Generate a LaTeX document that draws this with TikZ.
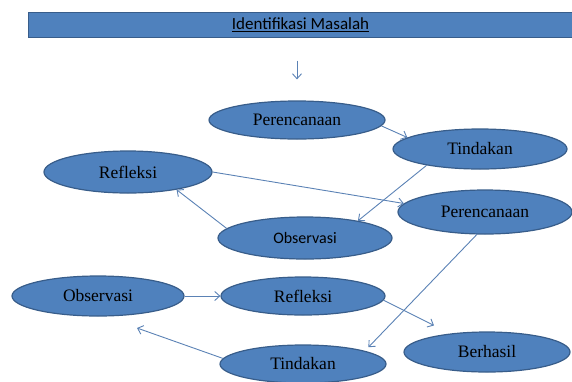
\documentclass[tikz,border=0pt]{standalone}
\usepackage{fontspec}
\setmainfont{Liberation Serif}
\newfontfamily\calibri{Carlito}
\usetikzlibrary{shapes.geometric,arrows.meta}
\definecolor{officeblue}{HTML}{4F81BD}
\definecolor{officeedge}{HTML}{385D8A}
\definecolor{linkblue}{HTML}{5B82B5}

\begin{document}
\begin{tikzpicture}[x=1pt,y=-1pt,>={Straight Barb[length=5pt,width=9pt]},
  phase/.style={ellipse,draw=officeedge,line width=1.2pt,fill=officeblue,inner sep=0pt,
    minimum width=170pt,minimum height=40pt,font=\fontsize{17.5}{20}\selectfont},
  link/.style={->,draw=linkblue,line width=0.9pt}]
\useasboundingbox (0,0) rectangle (572,381);
% judul
\node[draw=officeedge,line width=1pt,fill=officeblue,minimum width=545pt,minimum height=25pt,
  inner sep=0pt,font=\calibri\fontsize{17}{19}\selectfont] (bar) at (300.5,24.5) {\underline{Identifikasi Masalah}};
% siklus 1
\node[phase,minimum width=176pt,minimum height=38pt] (per1) at (297,120) {Perencanaan};
\node[phase,minimum width=174pt] (tinU) at (480,149) {Tindakan};
\node[phase,minimum width=174pt,minimum height=42pt] (obsM) at (305,238) {\calibri\fontsize{16}{18}\selectfont Observasi};
\node[phase,minimum width=168pt,minimum height=42pt] (refU) at (128,172) {Refleksi};
% siklus 2
\node[phase,minimum width=174pt,minimum height=44pt] (per2) at (485,212) {Perencanaan};
\node[phase,minimum width=166pt,minimum height=38pt] (tinL) at (303,364) {Tindakan};
\node[phase,minimum width=172pt] (obsL) at (98,296) {Observasi};
\node[phase,minimum width=164pt,minimum height=38pt] (refL) at (303,296) {Refleksi};
\node[phase,minimum width=166pt] (ber) at (487,352) {Berhasil};
\coordinate (loopEnd) at (137,328);
% panah
\draw[link,shorten <=23pt,shorten >=21pt] (per1.north |- bar.south) -- (per1.north);
\draw[link] (per1.-4) -- (tinU.171);
\draw[link] (tinU.197) -- (obsM.18);
\draw[link] (obsM.173) -- (refU.-20);
\draw[link] (refU.east) -- (per2.174);
\draw[link,shorten >=5pt] (per2.-110) -- (tinL.12);
\draw[link] (tinL.176) -- (loopEnd);
\draw[link] (obsL) -- (refL);
\draw[link,shorten >=18pt] (refL.-3) -- (ber);
\end{tikzpicture}
\end{document}
